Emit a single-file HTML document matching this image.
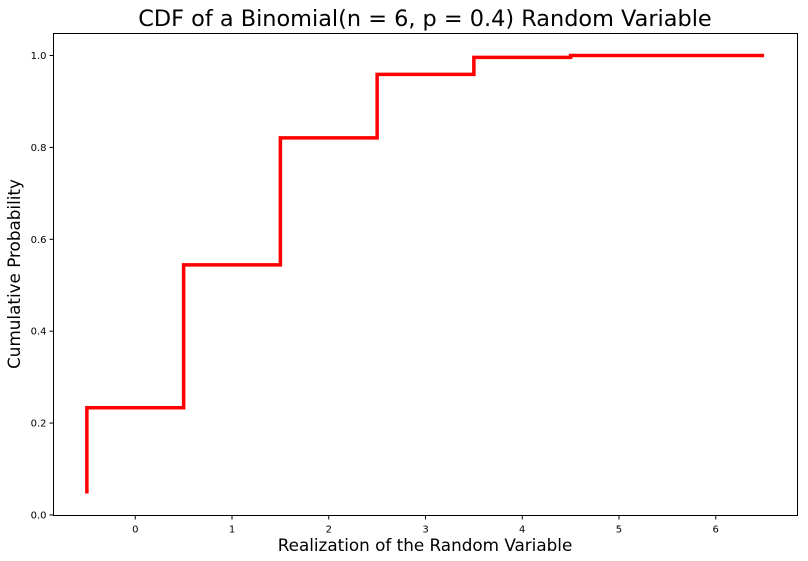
<!DOCTYPE html>
<html><head><meta charset="utf-8"><style>
body{margin:0;background:#fff;}
svg{display:block;font-family:"DejaVu Sans","Liberation Sans",sans-serif;}
</style></head><body>
<svg id="chart" width="808" height="561" viewBox="0 0 808 561" xmlns="http://www.w3.org/2000/svg">
<rect width="808" height="561" fill="#fff"/>
<text x="425" y="26" font-size="22.4" text-anchor="middle">CDF of a Binomial(n = 6, p = 0.4) Random Variable</text>
<g id="xt"></g>
<g id="yt"></g>
<path id="line" fill="none" stroke="#ff0000" stroke-width="3.5"/>
<rect x="53.5" y="33.5" width="744" height="482" fill="none" stroke="#000" stroke-width="1"/>
<text x="425" y="551" font-size="16.8" text-anchor="middle">Realization of the Random Variable</text>
<text transform="translate(20,274) rotate(-90)" font-size="16.8" text-anchor="middle">Cumulative Probability</text>
</svg>
<script>
const stepX = [-0.5, 0.5, 1.5, 2.5, 3.5, 4.5, 6.5];
const cdfValues = [0.0467, 0.2333, 0.5443, 0.8208, 0.9590, 0.9959, 1.0];
const xTicks = [0, 1, 2, 3, 4, 5, 6];
const yTicks = [0.0, 0.2, 0.4, 0.6, 0.8, 1.0];
const xMin=-0.845, xMax=6.845, yMin=-0.0012, yMax=1.0479;
const L=53.5,R=797.5,T=33.5,B=515.5;
const sx=v=>L+(v-xMin)/(xMax-xMin)*(R-L);
const sy=v=>B-(v-yMin)/(yMax-yMin)*(B-T);
const NS="http://www.w3.org/2000/svg";
let d="M"+sx(stepX[0])+","+sy(cdfValues[0]);
for(let i=1;i<cdfValues.length;i++){
  d+=" L"+sx(stepX[i-1])+","+sy(cdfValues[i]);
  d+=" L"+sx(stepX[i])+","+sy(cdfValues[i]);
}
document.getElementById('line').setAttribute('d',d);
const xt=document.getElementById('xt');
xTicks.forEach(t=>{
  const l=document.createElementNS(NS,'line');
  
  
  l.setAttribute('x1',sx(t));l.setAttribute('x2',sx(t));l.setAttribute('y1',B);l.setAttribute('y2',B+4);l.setAttribute('stroke','#000');
  xt.appendChild(l);
  const s=document.createElementNS(NS,'text');
  
  
  s.setAttribute('x',sx(t));s.setAttribute('y',B+17);s.setAttribute('font-size','10');s.setAttribute('text-anchor','middle');
  s.textContent=String(t);xt.appendChild(s);
});
const yt=document.getElementById('yt');
yTicks.forEach(t=>{
  const l=document.createElementNS(NS,'line');
  
  
  l.setAttribute('x1',L-4);l.setAttribute('x2',L);l.setAttribute('y1',sy(t));l.setAttribute('y2',sy(t));l.setAttribute('stroke','#000');
  yt.appendChild(l);
  const s=document.createElementNS(NS,'text');
  
  
  s.setAttribute('x',L-7);s.setAttribute('y',sy(t)+3.5);s.setAttribute('font-size','10');s.setAttribute('text-anchor','end');
  s.textContent=t.toFixed(1);yt.appendChild(s);
});
</script>
</body></html>
